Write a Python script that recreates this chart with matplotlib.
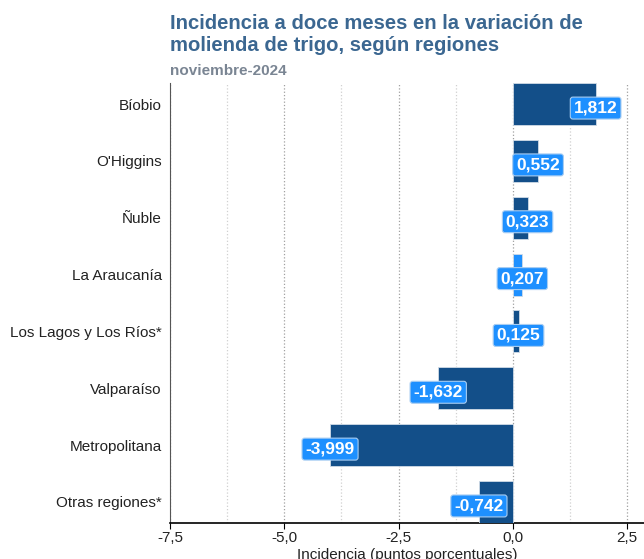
import matplotlib
matplotlib.use("Agg")
import matplotlib.pyplot as plt
import numpy as np

plt.rcParams['font.family'] = ['Liberation Sans', 'DejaVu Sans']

# data
regiones = ["Bíobio", "O'Higgins", "Ñuble", "La Araucanía",
            "Los Lagos y Los Ríos*", "Valparaíso", "Metropolitana", "Otras regiones*"]
incidencia = [1.812, 0.552, 0.323, 0.207, 0.125, -1.632, -3.999, -0.742]
destacada = "La Araucanía"

x_ticks = [-7.5, -5.0, -2.5, 0.0, 2.5]
x_ticklabels = ["-7,5", "-5,0", "-2,5", "0,0", "2,5"]

dark = "#134f89"
light = "#1e90ff"

fig = plt.figure(figsize=(6.44, 5.59), dpi=100)
ax = fig.add_axes([0.264, 0.0644, 0.736, 0.787])

y = np.arange(len(regiones))
colores = [light if r == destacada else dark for r in regiones]
ax.barh(y, incidencia, height=0.74, color=colores, edgecolor="#d0dbe6", linewidth=0.6, zorder=3)

for yi, v in zip(y, incidencia):
    txt = f"{v:.3f}".replace(".", ",")
    ax.text(v, yi + 0.07, txt, ha="center", va="center", color="white",
            fontsize=12.5, fontweight="bold", zorder=5,
            bbox=dict(boxstyle="round,pad=0.2,rounding_size=0.15", fc=light, ec="#a8cdf2", lw=0.8))

ax.set_xlim(-7.5, 2.87)
ax.set_ylim(len(regiones) - 0.63, -0.37)
ax.set_yticks(y)
ax.set_yticklabels(regiones, fontsize=11, color="#222222")
ax.tick_params(axis="y", length=0, pad=6)
ax.set_xticks(x_ticks)
ax.set_xticklabels(x_ticklabels, fontsize=11, color="#222222")
ax.tick_params(axis="x", length=4, width=0.8, pad=2)

ax.set_xticks(np.arange(-6.25, 2.6, 2.5), minor=True)
ax.tick_params(axis="x", which="minor", length=0)
ax.grid(axis="x", which="major", linestyle=":", color="#a0a0a0", linewidth=0.9, zorder=0)
ax.grid(axis="x", which="minor", linestyle=":", color="#d0d0d0", linewidth=0.9, zorder=0)

for s in ["top", "right"]:
    ax.spines[s].set_visible(False)
ax.spines["left"].set_color("#555555")
ax.spines["bottom"].set_color("black")
ax.spines["bottom"].set_linewidth(1.2)

ax.set_xlabel("Incidencia (puntos porcentuales)", fontsize=11, color="#222222", labelpad=2)

fig.text(0.264, 0.975, "Incidencia a doce meses en la variación de\nmolienda de trigo, según regiones",
         fontsize=14.6, fontweight="bold", color="#3b6791", ha="left", va="top", linespacing=1.2)
fig.text(0.264, 0.873, "noviembre-2024", fontsize=11, fontweight="bold", color="#7a8593",
         ha="left", va="center")

fig.savefig("out.png", dpi=100)
